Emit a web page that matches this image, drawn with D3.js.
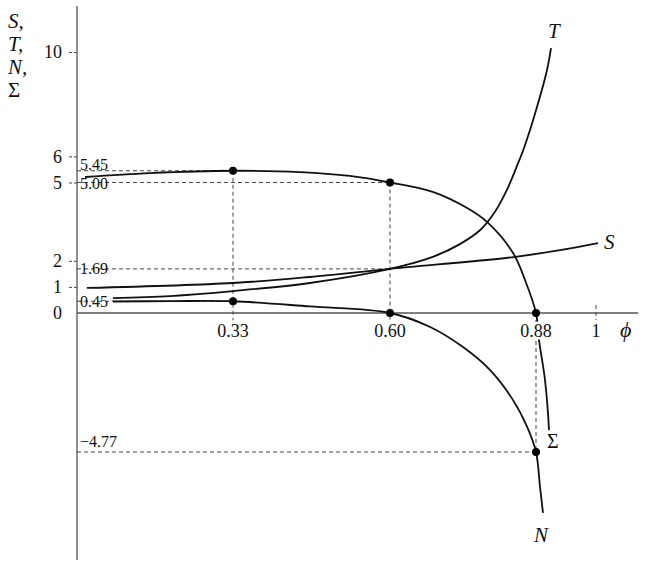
<!DOCTYPE html>
<html>
<head>
<meta charset="utf-8">
<script src="https://cdn.jsdelivr.net/npm/d3@7"></script>
<style>
  html, body { margin: 0; padding: 0; background: #fff; }
  svg { display: block; }
  text { font-family: "Liberation Serif", "DejaVu Serif", serif; fill: #111; }
  .it { font-style: italic; }
</style>
</head>
<body>
<svg id="chart" width="645" height="564"></svg>
<script>
// ---------- data ----------
const phiTicks = [0.33, 0.60, 0.88, 1];
const phiTickLabels = ["0.33", "0.60", "0.88", "1"];
const yTicks = [0, 1, 2, 5, 6, 10];
const yTickLabels = ["0", "1", "2", "5", "6", "10"];

const sigmaPhi = [0.017, 0.154, 0.33, 0.445, 0.531, 0.60, 0.682, 0.748, 0.786, 0.836, 0.859, 0.88, 0.886, 0.898, 0.906];
const sigmaVal = [5.21, 5.36, 5.45, 5.40, 5.25, 5.00, 4.64, 4.02, 3.49, 2.30, 1.26, 0, -0.93, -2.30, -4.02];

const nPhi = [0.076, 0.20, 0.33, 0.462, 0.60, 0.677, 0.740, 0.792, 0.836, 0.863, 0.88, 0.888, 0.894];
const nVal = [0.44, 0.455, 0.45, 0.25, 0, -0.48, -1.17, -1.96, -2.99, -3.91, -4.77, -5.97, -6.86];

const tPhi = [0.076, 0.197, 0.33, 0.462, 0.60, 0.682, 0.734, 0.773, 0.801, 0.824, 0.842, 0.857, 0.882, 0.902, 0.910];
const tVal = [0.57, 0.65, 0.84, 1.15, 1.69, 2.15, 2.64, 3.18, 3.87, 4.71, 5.56, 6.32, 7.89, 9.31, 10.15];

const sPhi = [0.021, 0.33, 0.462, 0.60, 0.84, 0.928, 1.004];
const sVal = [0.96, 1.15, 1.38, 1.69, 2.15, 2.41, 2.68];

// marked points
const dotPhi = [0.33, 0.60, 0.88, 0.33, 0.60, 0.88];
const dotVal = [5.45, 5.00, 0, 0.45, 0, -4.77];

// horizontal guides: value, extends to phi, label
const guideVal = [5.45, 5.00, 1.69, 0.45, -4.77];
const guideTo = [0.33, 0.60, 0.60, 0.33, 0.88];
const guideLabels = ["5.45", "5.00", "1.69", "0.45", "\u22124.77"];

// vertical guides: phi, from value, to value
const vguidePhi = [0.33, 0.60, 0.88];
const vguideFrom = [5.45, 5.00, 0];
const vguideTo = [-0.25, -0.25, -4.77];

// ---------- scales ----------
const svg = d3.select("#chart");
const x = d3.scaleLinear()
  .domain([0, 0.33, 0.60, 0.88, 1])
  .range([77, 233, 390, 536, 596]);
const y = d3.scaleLinear()
  .domain([-4.77, 0, 10])
  .range([452, 313, 52]);

const phiMax = 1.084;

// ---------- axes ----------
const yAxis = d3.axisLeft(y)
  .tickValues(yTicks)
  .tickFormat((d, i) => yTickLabels[i])
  .tickSize(10)
  .tickPadding(5);
const gy = svg.append("g").attr("transform", `translate(${x(0)},0)`).call(yAxis);
gy.select(".domain").remove();
gy.selectAll(".tick line")
  .attr("stroke", "#444")
  .attr("stroke-width", 1)
  .attr("stroke-dasharray", "3,2")
  .attr("x2", -10)
  .style("display", d => d === 0 ? "none" : null);
gy.selectAll(".tick text")
  .attr("font-family", "Liberation Serif")
  .attr("font-size", 18)
  .attr("fill", "#111");

// axis lines
svg.append("line")
  .attr("x1", x(0)).attr("x2", x(0))
  .attr("y1", 6).attr("y2", 560)
  .attr("stroke", "#555").attr("stroke-width", 1.3);
svg.append("line")
  .attr("x1", x(0)).attr("x2", x(phiMax))
  .attr("y1", y(0)).attr("y2", y(0))
  .attr("stroke", "#555").attr("stroke-width", 1.3);

// ---------- guides ----------
const guides = svg.append("g")
  .attr("stroke", "#444").attr("stroke-width", 1).attr("stroke-dasharray", "4,3").attr("fill", "none");
guideVal.forEach((v, i) => {
  guides.append("line")
    .attr("x1", x(0)).attr("x2", x(guideTo[i]))
    .attr("y1", y(v)).attr("y2", y(v));
});
vguidePhi.forEach((p, i) => {
  guides.append("line")
    .attr("x1", x(p)).attr("x2", x(p))
    .attr("y1", y(vguideFrom[i])).attr("y2", y(vguideTo[i]));
});
// tick at phi = 1
guides.append("line")
  .attr("x1", x(1)).attr("x2", x(1))
  .attr("y1", y(0) - 8).attr("y2", y(0) + 7);

// guide value labels
const glabDy = [-1, 6, 5, 6, -5];
guideVal.forEach((v, i) => {
  svg.append("text")
    .attr("x", x(0) + 3)
    .attr("y", y(v) + glabDy[i])
    .attr("font-size", 16)
    .text(guideLabels[i]);
});

// ---------- curves ----------
const line = d3.line()
  .x(d => x(d[0]))
  .y(d => y(d[1]))
  .curve(d3.curveCatmullRom.alpha(0.5));

const curves = [
  [sigmaPhi, sigmaVal],
  [nPhi, nVal],
  [tPhi, tVal],
  [sPhi, sVal]
];
curves.forEach(([ps, vs]) => {
  svg.append("path")
    .datum(ps.map((p, i) => [p, vs[i]]))
    .attr("d", line)
    .attr("fill", "none")
    .attr("stroke", "#111")
    .attr("stroke-width", 1.8);
});

// ---------- x tick labels (with white halo) ----------
phiTicks.forEach((p, i) => {
  svg.append("text")
    .attr("x", x(p))
    .attr("y", y(0) + 24)
    .attr("text-anchor", "middle")
    .attr("font-size", 18)
    .attr("stroke", "#fff")
    .attr("stroke-width", 5)
    .attr("paint-order", "stroke")
    .text(phiTickLabels[i]);
});

// ---------- dots ----------
svg.append("g").selectAll("circle")
  .data(dotPhi.map((p, i) => [p, dotVal[i]]))
  .join("circle")
  .attr("cx", d => x(d[0]))
  .attr("cy", d => y(d[1]))
  .attr("r", 4)
  .attr("fill", "#000");

// ---------- labels ----------
const axisTitle = ["S,", "T,", "N,", "\u03A3"];
axisTitle.forEach((t, i) => {
  svg.append("text")
    .attr("class", i < 3 ? "it" : null)
    .attr("x", 8)
    .attr("y", 28 + i * 23)
    .attr("font-size", 21)
    .text(t);
});
svg.append("text").attr("class", "it").attr("x", 620).attr("y", 337).attr("font-size", 22).text("\u03D5");
svg.append("text").attr("class", "it").attr("x", 548).attr("y", 38).attr("font-size", 21).text("T");
svg.append("text").attr("class", "it").attr("x", 604).attr("y", 249).attr("font-size", 21).text("S");
svg.append("text").attr("x", 547).attr("y", 448).attr("font-size", 20).text("\u03A3");
svg.append("text").attr("class", "it").attr("x", 534).attr("y", 542).attr("font-size", 21).text("N");
</script>
</body>
</html>
